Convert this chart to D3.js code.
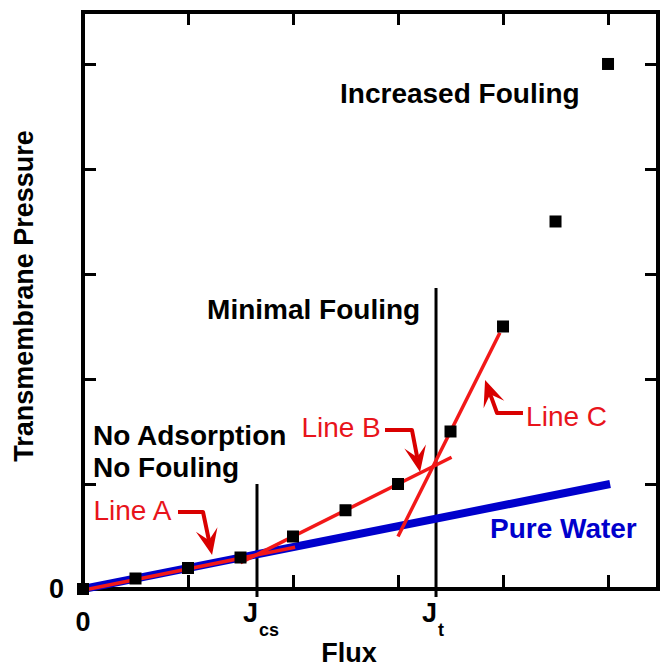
<!DOCTYPE html>
<html>
<head>
<meta charset="utf-8">
<script src="https://cdn.jsdelivr.net/npm/d3@7"></script>
<style>
  body { margin: 0; background: #fff; }
  svg { display: block; font-family: "Liberation Sans", Arial, sans-serif; }
</style>
</head>
<body>
<div id="chart"></div>
<script>
const width = 660;
const height = 668;
const margin = { top: 12, right: 2, bottom: 79, left: 83 };

// measured points (flux, TMP) in tick units
const fluxValues = [0, 0.5, 1, 1.5, 2, 2.5, 3, 3.5, 4, 4.5, 5];
const tmpValues = [0, 0.1, 0.2, 0.3, 0.5, 0.75, 1.0, 1.5, 2.5, 3.5, 5.0];
const tickValues = [1, 2, 3, 4, 5];

// fitted lines [x, y] end points
const pureWater = [[0, 0], [5.02, 1.0]];
const lineA = [[0, -0.012], [2.02, 0.398]];
const lineB = [[1.5, 0.25], [3.51, 1.255]];
const lineC = [[3.0, 0.5], [3.97, 2.44]];

// critical fluxes
const jcs = 1.657;
const jt = 3.362;
const jcsTop = 1.0;
const jtTop = 2.867;

// region labels: text, x, y (data units, baseline start)
const regionLabels = [
  ['Increased Fouling', 2.448, 4.624],
  ['Minimal Fouling', 1.182, 2.572],
  ['No Adsorption', 0.095, 1.371],
  ['No Fouling', 0.095, 1.067]
];
const lineLabels = [
  ['Line A', 0.1, 0.657],
  ['Line B', 2.08, 1.448],
  ['Line C', 4.22, 1.552]
];
// elbow arrows: start, corner, tip
const arrows = [
  [[0.905, 0.733], [1.143, 0.733], [1.229, 0.324]],
  [[2.876, 1.514], [3.133, 1.514], [3.21, 1.114]],
  [[4.19, 1.676], [3.943, 1.676], [3.829, 1.99]]
];

const points = fluxValues.map((f, i) => ({ x: f, y: tmpValues[i] }));

const x = d3.scaleLinear()
  .domain([0, 5.476])
  .range([margin.left, width - margin.right]);
const y = d3.scaleLinear()
  .domain([0, 5.495])
  .range([height - margin.bottom, margin.top]);

const svg = d3.select('#chart')
  .append('svg')
  .attr('width', width)
  .attr('height', height);

const red = '#f21818';
const darkRed = '#d90000';
const blue = '#0000cc';

// ticks on all four sides, pointing inside
svg.append('g')
  .attr('transform', `translate(0,${y(0)})`)
  .call(d3.axisBottom(x).tickValues(tickValues).tickSize(-14).tickFormat(''))
  .call(g => g.select('.domain').remove())
  .selectAll('line').attr('stroke-width', 3);
svg.append('g')
  .attr('transform', `translate(0,${margin.top})`)
  .call(d3.axisTop(x).tickValues(tickValues).tickSize(-13).tickFormat(''))
  .call(g => g.select('.domain').remove())
  .selectAll('line').attr('stroke-width', 3);
svg.append('g')
  .attr('transform', `translate(${margin.left},0)`)
  .call(d3.axisLeft(y).tickValues(tickValues).tickSize(-13).tickFormat(''))
  .call(g => g.select('.domain').remove())
  .selectAll('line').attr('stroke-width', 3);
svg.append('g')
  .attr('transform', `translate(${width - margin.right},0)`)
  .call(d3.axisRight(y).tickValues(tickValues).tickSize(-13).tickFormat(''))
  .call(g => g.select('.domain').remove())
  .selectAll('line').attr('stroke-width', 3);

// frame
svg.append('rect')
  .attr('x', x(0))
  .attr('y', margin.top)
  .attr('width', x.range()[1] - x(0))
  .attr('height', y(0) - margin.top)
  .attr('fill', 'none')
  .attr('stroke', 'black')
  .attr('stroke-width', 4);

const line = d3.line().x(d => x(d[0])).y(d => y(d[1]));

// critical flux markers
[[jcs, jcsTop], [jt, jtTop]].forEach(([jx, top]) => {
  svg.append('line')
    .attr('x1', x(jx)).attr('x2', x(jx))
    .attr('y1', y(top)).attr('y2', y(0) + 8)
    .attr('stroke', 'black')
    .attr('stroke-width', 3);
});

svg.append('path')
  .attr('d', line(pureWater))
  .attr('stroke', blue)
  .attr('stroke-width', 8)
  .attr('fill', 'none');

[lineA, lineB, lineC].forEach(l => {
  svg.append('path')
    .attr('d', line(l))
    .attr('stroke', red)
    .attr('stroke-width', 3.5)
    .attr('fill', 'none');
});

svg.append('g')
  .selectAll('rect')
  .data(points)
  .join('rect')
  .attr('x', d => x(d.x) - 6)
  .attr('y', d => y(d.y) - 6)
  .attr('width', 12)
  .attr('height', 12)
  .attr('fill', 'black');

// arrows
arrows.forEach(([s, c, t]) => {
  const sx = x(s[0]), sy = y(s[1]);
  const cx = x(c[0]), cy = y(c[1]);
  const tx = x(t[0]), ty = y(t[1]);
  const ang = Math.atan2(ty - cy, tx - cx);
  const len = 26, hw = 11, notch = 15;
  const ex = tx - Math.cos(ang) * notch, ey = ty - Math.sin(ang) * notch;
  svg.append('path')
    .attr('d', `M${sx},${sy}L${cx},${cy}L${ex},${ey}`)
    .attr('stroke', darkRed)
    .attr('stroke-width', 4)
    .attr('stroke-linejoin', 'round')
    .attr('fill', 'none');
  const px = -Math.sin(ang), py = Math.cos(ang);
  const bx = tx - Math.cos(ang) * len, by = ty - Math.sin(ang) * len;
  svg.append('path')
    .attr('d', `M${tx},${ty}L${bx + px * hw},${by + py * hw}L${ex},${ey}L${bx - px * hw},${by - py * hw}Z`)
    .attr('fill', darkRed);
});

// labels
svg.append('g')
  .selectAll('text')
  .data(regionLabels)
  .join('text')
  .attr('x', d => x(d[1]))
  .attr('y', d => y(d[2]))
  .attr('font-size', 28)
  .attr('font-weight', 'bold')
  .attr('fill', 'black')
  .text(d => d[0]);

svg.append('g')
  .selectAll('text')
  .data(lineLabels)
  .join('text')
  .attr('x', d => x(d[1]))
  .attr('y', d => y(d[2]))
  .attr('font-size', 28)
  .attr('fill', '#e8141b')
  .text(d => d[0]);

svg.append('text')
  .attr('x', x(3.876))
  .attr('y', y(0.486))
  .attr('font-size', 28)
  .attr('font-weight', 'bold')
  .attr('fill', blue)
  .text('Pure Water');

// axis labels
svg.append('text')
  .attr('x', x(0) - 19)
  .attr('y', y(0) + 9)
  .attr('text-anchor', 'end')
  .attr('font-size', 27)
  .attr('font-weight', 'bold')
  .text('0');
svg.append('text')
  .attr('x', x(0))
  .attr('y', y(0) + 42)
  .attr('text-anchor', 'middle')
  .attr('font-size', 27)
  .attr('font-weight', 'bold')
  .text('0');

[[jcs, 'cs'], [jt, 't']].forEach(([jx, sub]) => {
  svg.append('text')
    .attr('x', x(jx) + 1)
    .attr('y', y(0) + 33)
    .attr('text-anchor', 'end')
    .attr('font-size', 27)
    .attr('font-weight', 'bold')
    .text('J');
  svg.append('text')
    .attr('x', x(jx) + 2)
    .attr('y', y(0) + 47)
    .attr('font-size', 18)
    .attr('font-weight', 'bold')
    .text(sub);
});

svg.append('text')
  .attr('x', 349)
  .attr('y', 662)
  .attr('text-anchor', 'middle')
  .attr('font-size', 27)
  .attr('font-weight', 'bold')
  .text('Flux');

svg.append('text')
  .attr('transform', `translate(33,${(132 + 460) / 2}) rotate(-90)`)
  .attr('text-anchor', 'middle')
  .attr('font-size', 27)
  .attr('font-weight', 'bold')
  .text('Transmembrane Pressure');
</script>
</body>
</html>
